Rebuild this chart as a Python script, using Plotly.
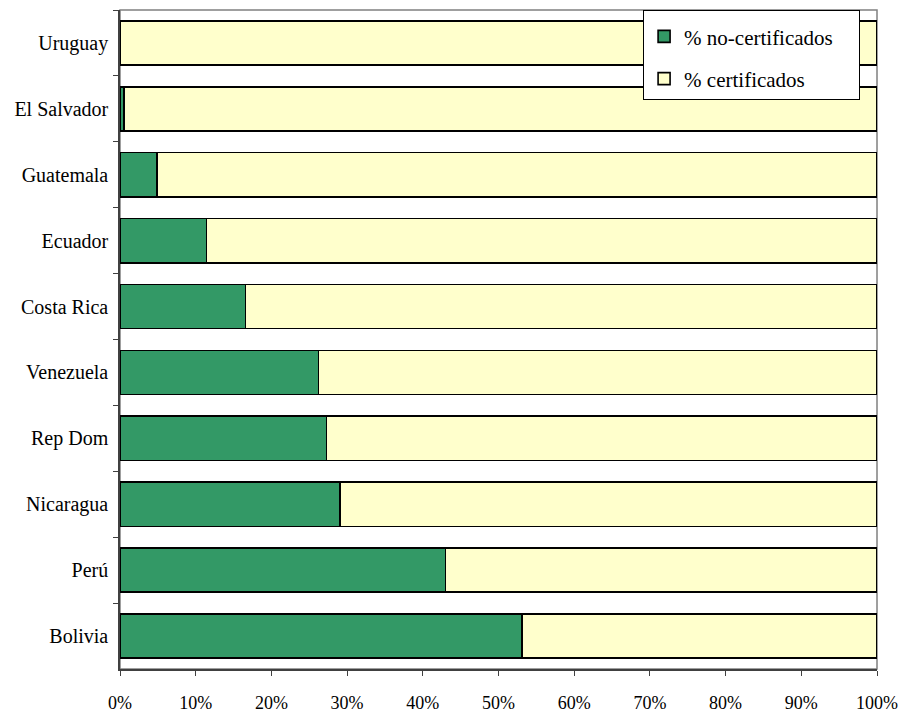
import plotly.graph_objects as go

countries = ["Uruguay", "El Salvador", "Guatemala", "Ecuador", "Costa Rica",
             "Venezuela", "Rep Dom", "Nicaragua", "Perú", "Bolivia"]
no_cert = [0.0, 0.5, 4.9, 11.4, 16.6, 26.2, 27.3, 29.1, 43.0, 53.1]
cert = [100 - v for v in no_cert]
series_names = ["% no-certificados", "% certificados"]
x_ticks = [0, 10, 20, 30, 40, 50, 60, 70, 80, 90, 100]
x_tick_labels = [f"{v}%" for v in x_ticks]

FONT = "'Liberation Serif', 'Times New Roman', serif"
PAD = "\u00a0" * 4

fig = go.Figure()
fig.add_trace(go.Bar(
    y=countries, x=no_cert, orientation="h", name=series_names[0] + PAD,
    marker=dict(color="#339966", line=dict(color="black", width=1.6)),
    legendgroup="a",
))
fig.add_trace(go.Bar(
    y=countries, x=cert, orientation="h", name=series_names[1],
    marker=dict(color="#FFFFCC", line=dict(color="black", width=1.6)),
    legendgroup="b",
))

fig.update_layout(
    width=901, height=715,
    margin=dict(l=120, r=24, t=10, b=46, autoexpand=False),
    barmode="stack", bargap=0.33,
    paper_bgcolor="white", plot_bgcolor="white",
    font=dict(family=FONT, color="black", size=18),
    showlegend=True,
    legend=dict(
        x=0.691, y=1.0, xanchor="left", yanchor="top",
        bgcolor="white", bordercolor="black", borderwidth=1,
        font=dict(family=FONT, size=21, color="black"),
        traceorder="grouped", tracegroupgap=12,
        title=dict(text=" ", font=dict(size=4)),
    ),
    shapes=[dict(type="rect", xref="paper", yref="paper", x0=0, x1=1, y0=0, y1=1,
                 line=dict(color="#808080", width=1.5), layer="below")],
)
fig.update_xaxes(
    range=[0, 100], tickvals=x_ticks, ticktext=x_tick_labels,
    showgrid=False, zeroline=False, automargin=False,
    showline=True, linecolor="#404040", linewidth=1.5,
    ticks="outside", ticklen=5, tickcolor="#404040", tickwidth=1,
    tickfont=dict(family=FONT, size=18, color="black"),
    ticklabelstandoff=12,
)
fig.update_yaxes(
    categoryorder="array", categoryarray=countries, autorange="reversed",
    showgrid=False, zeroline=False, automargin=False,
    showline=True, linecolor="#404040", linewidth=1.5,
    ticks="outside", ticklen=5, tickcolor="#404040", tickwidth=1,
    tickson="boundaries",
    tickfont=dict(family=FONT, size=20, color="black"),
    ticklabelstandoff=6,
)

fig.write_html("out.html")
